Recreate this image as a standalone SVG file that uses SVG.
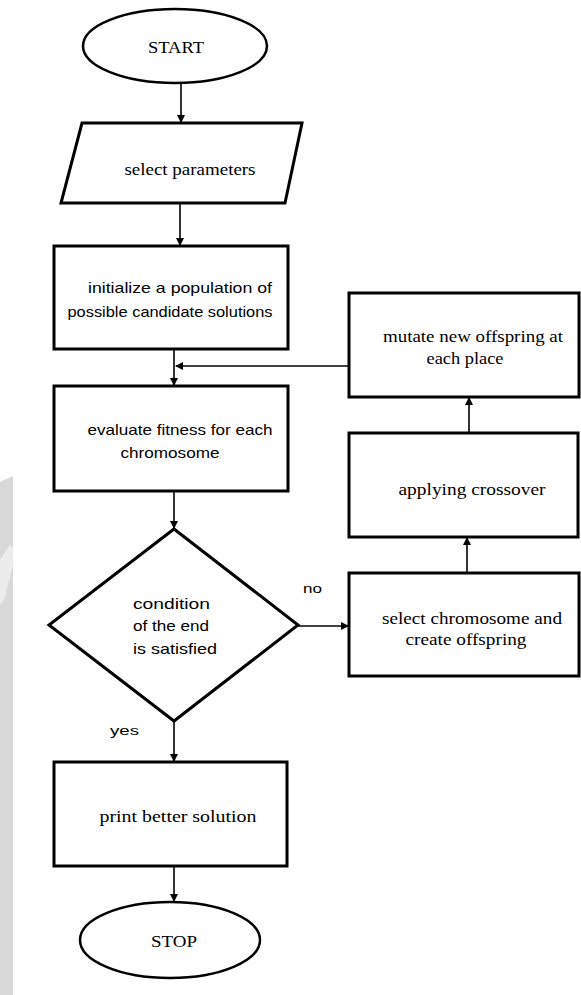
<svg xmlns="http://www.w3.org/2000/svg" width="581" height="995" viewBox="0 0 581 995">
<style>
.shape{fill:#fff;stroke:#000;stroke-width:3}
.oval{fill:#fff;stroke:#000;stroke-width:2.5}
.conn{fill:none;stroke:#000;stroke-width:1.6}
.serif{font-family:"Liberation Serif","Times New Roman",serif;font-size:16px;fill:#000}
.sans{font-family:"Liberation Sans",Arial,sans-serif;font-size:15px;fill:#000}
.small{font-family:"Liberation Sans",Arial,sans-serif;font-size:12px;fill:#000}
</style>
<defs>
<marker id="ah" markerWidth="8" markerHeight="8" refX="7" refY="4" orient="auto" markerUnits="userSpaceOnUse">
<path d="M0,0 L8,4 L0,8 Z" fill="#000"/>
</marker>
</defs>
<rect width="581" height="995" fill="#fff"/>
<path d="M0,482 L6,479 L13,476 L13,995 L0,995 Z" fill="#d9d9d9"/>
<path d="M0,560 L10,545 L13,548 L13,565 L4,600 L0,605 Z" fill="#ececec"/>

<g id="connectors">
<line class="conn" x1="181" y1="84" x2="181" y2="122" marker-end="url(#ah)"/>
<line class="conn" x1="180" y1="204" x2="180" y2="245" marker-end="url(#ah)"/>
<line class="conn" x1="174" y1="350" x2="174" y2="385" marker-end="url(#ah)"/>
<line class="conn" x1="349" y1="366" x2="176" y2="366" marker-end="url(#ah)"/>
<line class="conn" x1="174" y1="492" x2="174" y2="528" marker-end="url(#ah)"/>
<line class="conn" x1="298" y1="626" x2="348" y2="626" marker-end="url(#ah)"/>
<line class="conn" x1="174" y1="721" x2="174" y2="761" marker-end="url(#ah)"/>
<line class="conn" x1="174" y1="867" x2="174" y2="901" marker-end="url(#ah)"/>
<line class="conn" x1="467" y1="573" x2="467" y2="538" marker-end="url(#ah)"/>
<line class="conn" x1="469" y1="433" x2="469" y2="398" marker-end="url(#ah)"/>
<text class="small" x="303" y="593" textLength="19" lengthAdjust="spacingAndGlyphs">no</text>
<text class="small" x="110" y="735" textLength="29" lengthAdjust="spacingAndGlyphs">yes</text>
</g>

<g id="start">
<ellipse class="oval" cx="175" cy="46" rx="92" ry="37"/>
<text class="serif" x="176" y="53" text-anchor="middle" font-size="18" textLength="56" lengthAdjust="spacingAndGlyphs">START</text>
</g>

<g id="select-parameters">
<polygon class="shape" points="82,123 302,123 285,203 61,203"/>
<text class="serif" x="190" y="175" text-anchor="middle" textLength="131" lengthAdjust="spacingAndGlyphs">select parameters</text>
</g>

<g id="initialize">
<rect class="shape" x="54" y="246" width="234" height="103"/>
<text class="sans" x="180" y="293" text-anchor="middle" textLength="184" lengthAdjust="spacingAndGlyphs">initialize a population of</text>
<text class="sans" x="170" y="317" text-anchor="middle" textLength="205" lengthAdjust="spacingAndGlyphs">possible candidate solutions</text>
</g>

<g id="evaluate">
<rect class="shape" x="54" y="386" width="234" height="105"/>
<text class="sans" x="180" y="435" text-anchor="middle" textLength="185" lengthAdjust="spacingAndGlyphs">evaluate fitness for each</text>
<text class="sans" x="170" y="458" text-anchor="middle" textLength="99" lengthAdjust="spacingAndGlyphs">chromosome</text>
</g>

<g id="condition">
<polygon class="shape" points="174,529 298,625 174,721 49,625"/>
<text class="sans" x="133" y="609" textLength="77" lengthAdjust="spacingAndGlyphs">condition</text>
<text class="sans" x="133" y="631" textLength="76" lengthAdjust="spacingAndGlyphs">of the end</text>
<text class="sans" x="133" y="654" textLength="84" lengthAdjust="spacingAndGlyphs">is satisfied</text>
</g>

<g id="print-solution">
<rect class="shape" x="54" y="762" width="233" height="104"/>
<text class="serif" x="178" y="822" text-anchor="middle" textLength="157" lengthAdjust="spacingAndGlyphs">print better solution</text>
</g>

<g id="stop">
<ellipse class="oval" cx="170" cy="940" rx="90" ry="38"/>
<text class="serif" x="174" y="947" text-anchor="middle" font-size="18" textLength="46" lengthAdjust="spacingAndGlyphs">STOP</text>
</g>

<g id="select-chromosome">
<rect class="shape" x="349" y="573" width="230" height="103"/>
<text class="serif" x="472" y="624" text-anchor="middle" textLength="180" lengthAdjust="spacingAndGlyphs">select chromosome and</text>
<text class="serif" x="466" y="645" text-anchor="middle" textLength="121" lengthAdjust="spacingAndGlyphs">create offspring</text>
</g>

<g id="crossover">
<rect class="shape" x="349" y="433" width="229" height="104"/>
<text class="serif" x="472" y="495" text-anchor="middle" textLength="147" lengthAdjust="spacingAndGlyphs">applying crossover</text>
</g>

<g id="mutate">
<rect class="shape" x="349" y="293" width="230" height="104"/>
<text class="serif" x="473" y="342" text-anchor="middle" textLength="180" lengthAdjust="spacingAndGlyphs">mutate new offspring at</text>
<text class="serif" x="465" y="364" text-anchor="middle" textLength="77" lengthAdjust="spacingAndGlyphs">each place</text>
</g>
</svg>
